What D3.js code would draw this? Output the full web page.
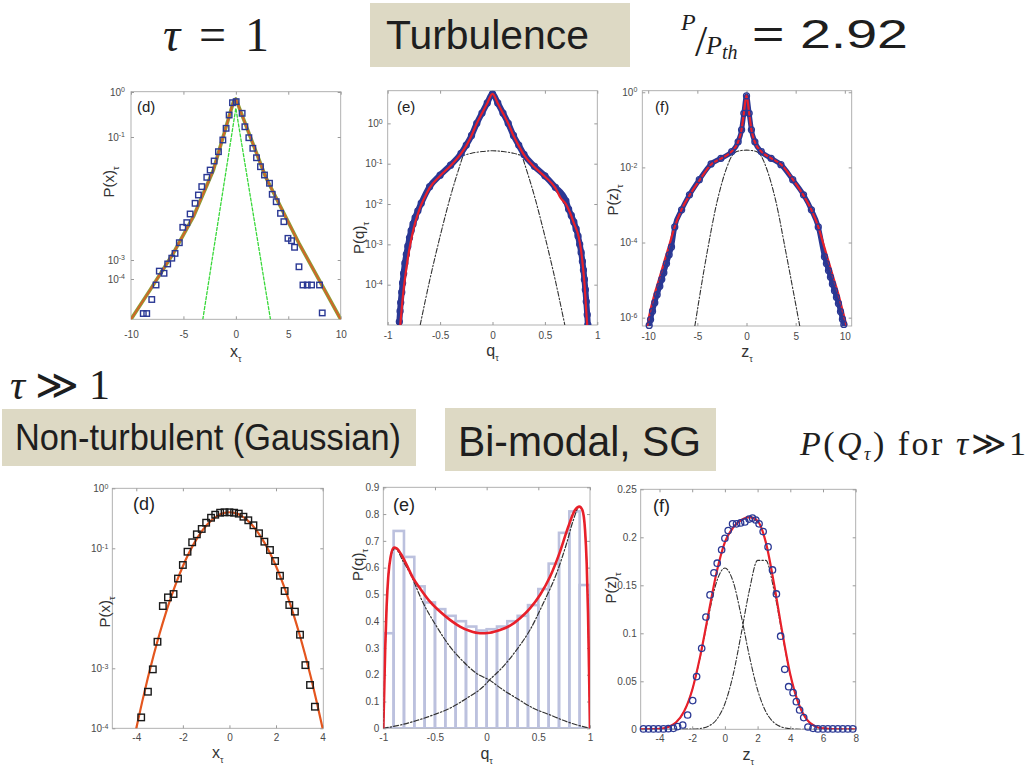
<!DOCTYPE html>
<html><head><meta charset="utf-8">
<script src="https://cdn.jsdelivr.net/npm/d3@7"></script>
<style>
body{margin:0;background:#fff}
svg{display:block}
</style>
</head><body><script>
// ================= DATA =================
// --- top row, tau = 1 : panel (d) P(x) ---
const tdXTicks = [-10,-5,0,5,10];
const tdYTicks = [1,0.1,0.001,0.0001];
const tdX = [-8.83,-8.50,-8.02,-7.61,-7.30,-6.85,-6.50,-6.11,-5.80,-5.39,-5.06,-4.68,-4.36,-3.89,-3.57,-3.25,-2.77,-2.45,-2.07,-1.66,-1.24,-0.93,-0.64,-0.32,
  0.03,0.60,0.86,1.24,1.62,1.97,2.35,2.73,3.21,3.47,3.85,4.26,4.58,4.97,5.31,5.60,6.02,6.40,6.81,7.22,7.98,8.24];
const tdP = [1.39e-5,1.39e-5,3.1e-5,7.1e-5,2.6e-4,2.0e-4,6.2e-4,1.07e-3,1.28e-3,1.91e-3,3.4e-3,4.05e-3,5.6e-3,8.35e-3,0.0114,0.0156,0.0221,0.029,0.0407,0.0577,0.0894,0.156,0.308,0.578,
  0.61,0.336,0.169,0.0974,0.0655,0.046,0.0329,0.0241,0.0177,0.0117,8.87e-3,5.74e-3,4.2e-3,2.25e-3,2.06e-3,1.61e-3,4.4e-4,7.1e-5,7.1e-5,7.1e-5,7.1e-5,1.44e-5];
const tdFitX = [-10,-8.19,-5.96,-4.05,-2.14,-0.23,0,2.83,6.02,10];
const tdFitP = [1e-5,5.3e-5,1.29e-3,5.06e-3,0.029,0.61,0.70,0.0226,1.87e-3,1e-5];
const tdGaussX = [-3.15,-2.55,-2.27,-0.43,0,0.45,2.38,2.67,3.3];
const tdGaussP = [1e-5,1e-4,1e-3,0.1,0.44,0.1,1e-3,1e-4,1e-5];

// --- top row : panel (e) P(q) ---
const teXTicks = [-1,-0.5,0,0.5,1];
const teYTicks = [1,0.1,0.01,0.001,0.0001];
const teBlueQ = [-0.889,-0.882,-0.876,-0.866,-0.858,-0.848,-0.836,-0.822,-0.808,-0.792,-0.776,-0.758,-0.738,-0.712,-0.68,-0.6,-0.5,-0.4,-0.3,-0.25,-0.2,-0.15,-0.1,-0.05,0,
  0.05,0.1,0.15,0.2,0.25,0.3,0.4,0.5,0.6,0.7,0.726,0.752,0.776,0.798,0.816,0.832,0.846,0.858,0.868,0.877,0.886,0.895,0.904,0.91];
const teBlueP = [1.2e-5,2.2e-5,3.6e-5,6.5e-5,1.1e-4,1.9e-4,3.4e-4,5.6e-4,9.0e-4,1.45e-3,2.2e-3,3.2e-3,4.6e-3,6.8e-3,0.0105,0.027,0.052,0.092,0.18,0.29,0.5,1.0,1.8,3.2,5.4,
  3.2,1.8,1.0,0.5,0.29,0.17,0.086,0.05,0.026,0.012,7.5e-3,5.2e-3,3.6e-3,2.4e-3,1.6e-3,1.0e-3,6.3e-4,3.8e-4,2.3e-4,1.35e-4,7.5e-5,3.8e-5,1.8e-5,1.0e-5];
const teFitQ = [-0.88,-0.865,-0.845,-0.82,-0.795,-0.77,-0.74,-0.7,-0.65,-0.6,-0.5,-0.4,-0.3,-0.25,-0.2,-0.15,-0.1,-0.05,0,0.05,0.1,0.15,0.2,0.25,0.3,0.4,0.5,0.6,0.65,0.7,0.742,0.78,0.822,0.845,0.863,0.88,0.892,0.904];
const teFitP = [1e-5,2.8e-5,8.9e-5,2.75e-4,7.2e-4,1.55e-3,3.3e-3,7.1e-3,0.0141,0.0251,0.0501,0.089,0.178,0.28,0.5,1.0,1.78,3.16,5.4,3.16,1.78,1.0,0.5,0.28,0.166,0.083,0.048,0.0251,0.0141,0.01,5.9e-3,3.16e-3,1.55e-3,7.1e-4,2.75e-4,8.9e-5,2.8e-5,1e-5];
const teNarrowQ = [-0.69,-0.6,-0.5,-0.4,-0.3,-0.25,-0.2,-0.1,0,0.1,0.2,0.25,0.3,0.4,0.5,0.6,0.69];
const teNarrowP = [1e-5,1.26e-4,1.58e-3,0.0158,0.112,0.28,0.63,2.24,5.0,2.24,0.63,0.28,0.112,0.0158,1.58e-3,1.26e-4,1e-5];
const teWideQ = [-0.31,-0.2,-0.1,0,0.1,0.2,0.31];
const teWideP = [0.151,0.182,0.2,0.209,0.2,0.182,0.148];

// --- top row : panel (f) P(z) ---
const tfXTicks = [-10,-5,0,5,10];
const tfYTicks = [1,0.01,0.0001,0.000001];
const tfBlueZ = [-9.90,-9.76,-9.56,-9.33,-9.09,-8.82,-8.62,-8.41,-8.14,-7.87,-7.63,-7.3,-6.6,-5.8,-4.8,-3.6,-2.6,-1.5,-0.85,-0.5,-0.27,0,
  0.27,0.5,0.85,1.5,2.5,3.5,4.7,5.8,6.6,7.3,7.93,8.13,8.34,8.54,8.74,8.95,9.15,9.35,9.56,9.76,9.9];
const tfBlueP = [6.2e-7,8.9e-7,1.48e-6,2.5e-6,4.1e-6,6.9e-6,1.05e-5,1.58e-5,2.75e-5,4.7e-5,7.6e-5,2.6e-4,7.4e-4,1.86e-3,4.7e-3,0.0123,0.0174,0.0263,0.048,0.1,0.275,0.8,
  0.275,0.1,0.048,0.0263,0.0174,0.0118,4.7e-3,1.86e-3,7.4e-4,2.6e-4,4.2e-5,2.75e-5,1.8e-5,1.2e-5,7.9e-6,5.2e-6,3.5e-6,2.4e-6,1.45e-6,9.1e-7,6.6e-7];
const tfFitZ = [-10.11,-9.84,-9.33,-8.82,-8.31,-7.80,-7.30,-6.62,-5.77,-4.75,-3.56,-2.55,-1.53,-0.85,-0.51,-0.27,0,0.27,0.5,0.84,1.51,2.53,3.55,4.74,5.76,6.6,7.3,7.8,8.3,8.81,9.32,9.76,10.15];
const tfFitP = [5.8e-7,1.32e-6,4.47e-6,1.23e-5,3.47e-5,9.55e-5,2.63e-4,7.41e-4,1.86e-3,4.68e-3,0.0123,0.0174,0.0263,0.0479,0.1,0.275,0.83,0.275,0.1,0.0479,0.0263,0.0174,0.01175,4.68e-3,1.86e-3,7.41e-4,2.63e-4,9.55e-5,3.47e-5,1.23e-5,4.47e-6,1.62e-6,6.46e-7];
const tfGaussZ = [-5.26,-4,-3,-2,-1.5,-1,-0.5,0,0.5,1,1.5,2,3,4,5.42];
const tfGaussP = [5.9e-7,5.6e-5,1.2e-3,0.01,0.02,0.0263,0.0282,0.0288,0.0282,0.0263,0.02,0.01,1.2e-3,5.6e-5,5.9e-7];

// --- bottom row, tau >> 1 : panel (d) P(x) ---
const bdXTicks = [-4,-2,0,2,4];
const bdYTicks = [1,0.1,0.001,0.0001];
const bdX = [-3.79,-3.50,-3.29,-3.09,-2.86,-2.64,-2.40,-2.21,-2.0,-1.8,-1.6,-1.4,-1.19,-1.0,-0.79,-0.61,-0.4,-0.21,0,0.2,0.4,0.6,0.81,1.03,1.27,1.5,1.74,1.96,2.17,2.37,2.57,2.81,3.03,3.26,3.46,3.67];
const bdP = [1.52e-4,4.07e-4,9.6e-4,2.77e-3,0.0109,0.0152,0.0173,0.0313,0.0527,0.0877,0.126,0.171,0.21,0.267,0.323,0.363,0.392,0.398,0.398,0.392,0.378,0.336,0.293,0.242,0.178,0.129,0.0937,0.0614,0.0349,0.0194,0.01135,8.8e-3,3.63e-3,1.13e-3,5.27e-4,2.29e-4];
const bdFitX = [-4.1,-4,-3.75,-3.5,-3.25,-3,-2.75,-2.5,-2.25,-2,-1.75,-1.5,-1.25,-1,-0.75,-0.5,-0.25,0,0.25,0.5,0.75,1,1.25,1.5,1.75,2,2.25,2.5,2.75,3,3.25,3.5,3.75,4,4.1];
const bdFitP = [6.6e-5,1.0e-4,2.73e-4,7.0e-4,1.68e-3,3.77e-3,7.93e-3,0.01566,0.029,0.0502,0.0816,0.1244,0.1776,0.2377,0.298,0.3505,0.386,0.399,0.386,0.3505,0.298,0.2377,0.1776,0.1244,0.0816,0.0502,0.029,0.01566,7.93e-3,3.77e-3,1.68e-3,7.0e-4,2.73e-4,1.0e-4,6.6e-5];

// --- bottom row : panel (e) P(q) histogram ---
const beXTicks = [-1,-0.5,0,0.5,1];
const beYTicks = [0,0.1,0.2,0.3,0.4,0.5,0.6,0.7,0.8,0.9];
const beBinLeft = [-1,-0.9,-0.8,-0.7,-0.6,-0.5,-0.4,-0.3,-0.2,-0.1,0,0.1,0.2,0.3,0.4,0.5,0.6,0.7,0.8,0.9];
const beBinWidth = 0.1;
const beBinH = [0.355,0.737,0.64,0.53,0.47,0.445,0.42,0.40,0.38,0.365,0.37,0.38,0.40,0.42,0.46,0.52,0.615,0.73,0.81,0.535];
const beFitQ = [-1,-0.99,-0.981,-0.968,-0.952,-0.929,-0.897,-0.871,-0.823,-0.774,-0.71,-0.645,-0.548,-0.452,-0.355,-0.258,-0.161,-0.065,0.032,0.129,0.226,0.323,0.419,0.516,0.613,0.71,0.79,0.855,0.897,0.926,0.952,0.968,0.981,0.99,1];
const beFitP = [0,0.156,0.305,0.454,0.566,0.641,0.675,0.672,0.647,0.61,0.56,0.523,0.473,0.436,0.405,0.38,0.363,0.355,0.357,0.367,0.383,0.411,0.448,0.498,0.566,0.66,0.753,0.815,0.828,0.815,0.741,0.616,0.429,0.23,0];
const beDownQ = [-1,-0.968,-0.929,-0.887,-0.806,-0.742,-0.613,-0.484,-0.355,-0.226,-0.097,0.026,0.161,0.29,0.452,0.613,0.774,0.935,1];
const beDownP = [0,0.45,0.64,0.672,0.622,0.579,0.467,0.38,0.305,0.249,0.205,0.18,0.143,0.112,0.075,0.05,0.025,0.006,0];
const beUpQ = [-1,-0.839,-0.677,-0.516,-0.355,-0.194,-0.032,0.026,0.129,0.29,0.419,0.548,0.677,0.774,0.839,0.897,0.926,0.952,0.968,0.981,0.99,1];
const beUpP = [0,0.012,0.029,0.05,0.075,0.112,0.156,0.18,0.218,0.293,0.367,0.467,0.579,0.691,0.778,0.828,0.815,0.741,0.616,0.429,0.23,0];

// --- bottom row : panel (f) P(z) ---
const bfXTicks = [-4,-2,0,2,4,6,8];
const bfYTicks = [0,0.05,0.1,0.15,0.2,0.25];
const bfZ = [-4.98,-4.67,-4.37,-4.07,-3.76,-3.46,-3.15,-2.89,-2.58,-2.28,-1.97,-1.73,-1.42,-1.16,-0.91,-0.67,-0.47,-0.2,0,0.2,0.47,0.71,0.96,1.22,1.48,1.69,1.89,2.09,2.34,2.64,2.91,3.15,3.41,3.66,3.9,4.17,4.37,4.57,4.82,5.08,5.39,5.69,6.0,6.3,6.6,6.91,7.21,7.52,7.82];
const bfP = [0.0004,0.0004,0.0004,0.0004,0.0004,0.0006,0.001,0.0028,0.0045,0.0149,0.0299,0.0549,0.0844,0.117,0.14,0.163,0.173,0.187,0.199,0.207,0.214,0.214,0.215,0.216,0.219,0.22,0.218,0.214,0.206,0.19,0.166,0.141,0.097,0.0625,0.0444,0.0382,0.0288,0.0201,0.0122,0.0024,0.001,0.0004,0.0004,0.0004,0.0004,0.0004,0.0004,0.0004,0.0004];
const bfFitZ = [-5.15,-4,-3.5,-3,-2.5,-2,-1.5,-1,-0.5,0,0.5,1,1.5,2,2.5,3,3.5,4,4.5,5,5.5,6,7,8];
const bfFitP = [0,0.0006,0.0022,0.007,0.0185,0.041,0.077,0.121,0.164,0.195,0.21,0.218,0.221,0.217,0.195,0.152,0.102,0.057,0.027,0.0103,0.0033,0.0009,0,0];
const bfG1Z = [-5.15,-4,-3,-2.5,-2,-1.5,-1,-0.5,0,0.5,1,1.5,2,2.5,3,3.5,4,5,8];
const bfG1P = [0,0.0006,0.007,0.0185,0.041,0.076,0.118,0.154,0.168,0.154,0.118,0.076,0.041,0.0185,0.007,0.0022,0.0006,0,0];
const bfG2Z = [-5.15,-2,-1.5,-1,-0.5,0,0.5,1,1.5,2,2.5,3,3.5,4,4.5,5,5.5,6,7,8];
const bfG2P = [0,0.0002,0.0009,0.0033,0.0103,0.0266,0.0565,0.0997,0.145,0.176,0.176,0.145,0.0997,0.0565,0.0266,0.0103,0.0033,0.0009,0,0];

// ================= DRAWING =================
const SANS = "'Liberation Sans',Arial,sans-serif";
const SERIF = "'Liberation Serif','Times New Roman',serif";
const svg = d3.select("body").append("svg").attr("width",1028).attr("height",771).style("font-family",SANS);
const defs = svg.append("defs");
let clipN = 0;
const zip = (a,b) => a.map((v,i)=>[v,b[i]]);

function supLabels(sel){
  sel.selectAll(".tick text").each(function(d){
    const e = Math.round(Math.log10(d));
    const t = d3.select(this).text(null);
    t.append("tspan").text("10");
    t.append("tspan").attr("dy","-0.5em").attr("font-size","7px").text(e);
  });
}

function panel(c){
  const g = svg.append("g");
  const id = "clip" + (clipN++);
  defs.append("clipPath").attr("id",id).append("rect")
    .attr("x",c.L).attr("y",c.T).attr("width",c.R-c.L).attr("height",c.B-c.T);
  g.append("rect").attr("x",c.L).attr("y",c.T).attr("width",c.R-c.L).attr("height",c.B-c.T)
    .attr("fill","#fff").attr("stroke","#a8a8a8").attr("stroke-width",0.9);
  const styleAxis = s => {
    s.select(".domain").remove();
    s.selectAll(".tick line").attr("stroke","#9a9a9a");
    s.selectAll(".tick text").attr("fill","#4a4a4a").attr("font-size",10).style("font-family",SANS);
  };
  const gx = g.append("g").attr("transform",`translate(0,${c.B})`)
    .call(d3.axisBottom(c.x).tickValues(c.xTicks).tickSize(-3).tickPadding(c.xPad).tickFormat(d=>String(d)));
  styleAxis(gx);
  g.append("g").attr("transform",`translate(0,${c.T})`)
    .call(d3.axisTop(c.x).tickValues(c.xTicks).tickSize(-3).tickFormat("")).call(styleAxis);
  const gy = g.append("g").attr("transform",`translate(${c.L},0)`)
    .call(d3.axisLeft(c.y).tickValues(c.yTicks).tickSize(-3).tickPadding(c.yPad).tickFormat(c.yFmt || (d=>String(d))));
  styleAxis(gy);
  if (c.log) supLabels(gy);
  g.append("g").attr("transform",`translate(${c.R},0)`)
    .call(d3.axisRight(c.y).tickValues(c.yTicks).tickSize(-3).tickFormat("")).call(styleAxis);
  const plot = g.append("g").attr("clip-path",`url(#${id})`);
  // x label
  const xl = g.append("text").attr("x",(c.L+c.R)/2).attr("y",c.xlY).attr("text-anchor","middle")
    .attr("font-size",16).attr("fill","#333");
  xl.append("tspan").text(c.xlab);
  xl.append("tspan").attr("font-size",9).attr("dy",5).text("τ");
  // y label
  const yl = g.append("text").attr("transform",`translate(${c.ylX},${c.ylY}) rotate(-90)`)
    .attr("text-anchor","middle").attr("font-size",15).attr("fill","#333");
  yl.append("tspan").text(c.ylab);
  yl.append("tspan").attr("font-size",9).attr("dy",5).text("τ");
  // panel tag
  g.append("text").attr("x",c.tagX).attr("y",c.tagY).attr("font-size",c.tagSize||16).attr("fill","#222").text(c.tag);
  return {g, plot};
}

function line(target, x, y, X, Y, stroke, width, dash, curve){
  const gen = d3.line().x(d=>x(d[0])).y(d=>y(d[1])).curve(curve || d3.curveLinear);
  target.append("path").attr("d",gen(zip(X,Y))).attr("fill","none").attr("stroke",stroke)
    .attr("stroke-width",width).attr("stroke-dasharray",dash||null)
    .attr("stroke-linejoin","round").attr("stroke-linecap","round");
}
function squares(target,x,y,X,Y,stroke,s){
  target.selectAll(null).data(zip(X,Y)).enter().append("rect")
    .attr("x",d=>x(d[0])-s/2).attr("y",d=>y(d[1])-s/2).attr("width",s).attr("height",s)
    .attr("fill","none").attr("stroke",stroke).attr("stroke-width",1.4);
}
function circles(target,x,y,X,Y,stroke,r){
  target.selectAll(null).data(zip(X,Y)).enter().append("circle")
    .attr("cx",d=>x(d[0])).attr("cy",d=>y(d[1])).attr("r",r)
    .attr("fill","none").attr("stroke",stroke).attr("stroke-width",1.3);
}
const NAVY = "#2a3894", RED = "#e8202a", DASH = "5,2,1.5,2";

// ---------- top (d) ----------
{
  const x = d3.scaleLinear().domain([-10,10]).range([131,340.7]);
  const y = d3.scaleLog().domain([1,0.1,0.001,0.0001,0.00001]).range([92,137,260,279,319.3]);
  const p = panel({L:131,R:340.7,T:91.7,B:319.3,x,y,xTicks:tdXTicks,yTicks:tdYTicks,log:true,xPad:12,yPad:6,
    xlab:"x",xlY:357,ylab:"P(x)",ylX:114,ylY:182,tag:"(d)",tagX:137,tagY:112,tagSize:15});
  line(p.plot,x,y,tdGaussX,tdGaussP,"#39d83a",1.3,"3,2");
  line(p.plot,x,y,tdFitX,tdFitP,"#8f9d35",3.6);
  line(p.plot,x,y,tdFitX,tdFitP,"#dc5a28",1.5);
  squares(p.g,x,y,tdX,tdP,NAVY,5.5);
}
// ---------- top (e) ----------
{
  const x = d3.scaleLinear().domain([-1,1]).range([387.7,597.3]);
  const y = d3.scaleLog().domain([1e-5,6.46]).range([325,90.7]);
  const p = panel({L:387.7,R:597.3,T:90.7,B:325,x,y,xTicks:teXTicks,yTicks:teYTicks,log:true,xPad:7,yPad:5,
    xlab:"q",xlY:356,ylab:"P(q)",ylX:364,ylY:238,tag:"(e)",tagX:397,tagY:112,tagSize:15});
  line(p.plot,x,y,teNarrowQ,teNarrowP,"#333",1.1,DASH,d3.curveMonotoneX);
  line(p.plot,x,y,teWideQ,teWideP,"#333",1.1,DASH,d3.curveMonotoneX);
  line(p.plot,x,y,teBlueQ,teBlueP,NAVY,6,null,d3.curveMonotoneX);
  circles(p.plot,x,y,teBlueQ,teBlueP,NAVY,3);
  line(p.plot,x,y,teFitQ,teFitP,RED,2.2,null,d3.curveMonotoneX);
}
// ---------- top (f) ----------
{
  const x = d3.scaleLinear().domain([-10.6,10.7]).range([642.3,851.7]);
  const y = d3.scaleLog().domain([6e-7,1.1]).range([326,90.7]);
  const p = panel({L:642.3,R:851.7,T:90.7,B:326,x,y,xTicks:tfXTicks,yTicks:tfYTicks,log:true,xPad:7,yPad:5,
    xlab:"z",xlY:357,ylab:"P(z)",ylX:618,ylY:200,tag:"(f)",tagX:655,tagY:112,tagSize:15});
  line(p.plot,x,y,tfGaussZ,tfGaussP,"#333",1.1,DASH,d3.curveMonotoneX);
  line(p.plot,x,y,tfBlueZ,tfBlueP,NAVY,5,null,d3.curveMonotoneX);
  circles(p.g,x,y,tfBlueZ,tfBlueP,NAVY,3);
  line(p.plot,x,y,tfFitZ,tfFitP,RED,2.2,null,d3.curveMonotoneX);
}
// ---------- bottom (d) ----------
{
  const x = d3.scaleLinear().domain([-5.03,4.03]).range([112.3,323.3]);
  const y = d3.scaleLog().domain([1e-4,1]).range([728.3,488.3]);
  const p = panel({L:112.3,R:323.3,T:488.3,B:728.3,x,y,xTicks:bdXTicks,yTicks:bdYTicks,log:true,xPad:6,yPad:4,
    xlab:"x",xlY:758,ylab:"P(x)",ylX:110,ylY:612,tag:"(d)",tagX:133,tagY:510,tagSize:18});
  line(p.plot,x,y,bdFitX,bdFitP,"#e4561e",2.2,null,d3.curveMonotoneX);
  squares(p.g,x,y,bdX,bdP,"#1a1a1a",6.5);
}
// ---------- bottom (e) ----------
{
  const x = d3.scaleLinear().domain([-1,1]).range([383.3,590]);
  const y = d3.scaleLinear().domain([0,0.9]).range([728.3,487.3]);
  const p = panel({L:383.3,R:590,T:487.3,B:728.3,x,y,xTicks:beXTicks,yTicks:beYTicks,log:false,xPad:6,yPad:4,
    xlab:"q",xlY:759,ylab:"P(q)",ylX:363,ylY:565,tag:"(e)",tagX:393,tagY:511,tagSize:18});
  p.plot.selectAll(null).data(zip(beBinLeft,beBinH)).enter().append("rect")
    .attr("x",d=>x(d[0])).attr("width",d=>x(d[0]+beBinWidth)-x(d[0]))
    .attr("y",d=>y(d[1])).attr("height",d=>y(0)-y(d[1]))
    .attr("fill","none").attr("stroke","#bcc1de").attr("stroke-width",2.6);
  line(p.plot,x,y,beDownQ,beDownP,"#333",1.2,DASH,d3.curveMonotoneX);
  line(p.plot,x,y,beUpQ,beUpP,"#333",1.2,DASH,d3.curveMonotoneX);
  line(p.plot,x,y,beFitQ,beFitP,RED,2.6,null,d3.curveMonotoneX);
}
// ---------- bottom (f) ----------
{
  const x = d3.scaleLinear().domain([-5.15,8]).range([640.7,855.7]);
  const y = d3.scaleLinear().domain([0,0.25]).range([729.3,489.3]);
  const p = panel({L:640.7,R:855.7,T:489.3,B:729.3,x,y,xTicks:bfXTicks,yTicks:bfYTicks,log:false,xPad:6,yPad:4,
    xlab:"z",xlY:760,ylab:"P(z)",ylX:616,ylY:588,tag:"(f)",tagX:653,tagY:512,tagSize:18});
  line(p.plot,x,y,bfG1Z,bfG1P,"#333",1.1,DASH,d3.curveMonotoneX);
  line(p.plot,x,y,bfG2Z,bfG2P,"#333",1.1,DASH,d3.curveMonotoneX);
  line(p.plot,x,y,bfFitZ,bfFitP,RED,2.2,null,d3.curveMonotoneX);
  circles(p.g,x,y,bfZ,bfP,NAVY,3.2);
}

// ================= HEADINGS =================
const BOX = "#ddd9c4", INK = "#1e1e1e";
// tau = 1
{
  const t = svg.append("text").attr("x",163).attr("y",51).style("font-family",SERIF).attr("font-size",48).attr("fill",INK)
    .attr("textLength",106).attr("lengthAdjust","spacing");
  t.append("tspan").attr("font-style","italic").text("τ");
  t.append("tspan").text("=1");
}
svg.append("rect").attr("x",370).attr("y",3).attr("width",260).attr("height",64).attr("fill",BOX);
svg.append("text").attr("x",386).attr("y",49).attr("font-size",40).attr("fill",INK)
  .attr("textLength",203).attr("lengthAdjust","spacingAndGlyphs").text("Turbulence");
// P / P_th = 2.92
{
  const g = svg.append("g").style("font-family",SERIF).attr("fill",INK);
  g.append("text").attr("x",681).attr("y",30).attr("font-size",24).attr("font-style","italic").text("P");
  g.append("text").attr("x",695).attr("y",56).attr("font-size",44).text("/");
  const b = g.append("text").attr("x",706).attr("y",54).attr("font-size",26).attr("font-style","italic");
  b.append("tspan").text("P");
  b.append("tspan").attr("font-size",20).attr("dy",5).text("th");
  g.append("text").attr("x",752).attr("y",48).style("font-family",SANS).attr("font-size",40)
    .attr("textLength",156).attr("lengthAdjust","spacingAndGlyphs").text("= 2.92");
}
// tau >> 1
{
  const t = svg.append("text").attr("x",10).attr("y",399).style("font-family",SERIF).attr("font-size",42).attr("fill",INK)
    .attr("textLength",100).attr("lengthAdjust","spacing");
  t.append("tspan").attr("font-style","italic").text("τ");
  t.append("tspan").text("≫1");
}
svg.append("rect").attr("x",2).attr("y",409).attr("width",414).attr("height",57).attr("fill",BOX);
svg.append("text").attr("x",15).attr("y",450).attr("font-size",36).attr("fill",INK)
  .attr("textLength",386).attr("lengthAdjust","spacingAndGlyphs").text("Non-turbulent (Gaussian)");
svg.append("rect").attr("x",445).attr("y",408).attr("width",271).attr("height",63).attr("fill",BOX);
svg.append("text").attr("x",458).attr("y",456).attr("font-size",42).attr("fill",INK)
  .attr("textLength",243).attr("lengthAdjust","spacingAndGlyphs").text("Bi-modal, SG");
{
  const t = svg.append("text").attr("x",800).attr("y",455).style("font-family",SERIF).attr("font-size",34).attr("fill",INK)
    .attr("textLength",226).attr("lengthAdjust","spacing");
  t.append("tspan").attr("font-style","italic").text("P");
  t.append("tspan").text("(");
  t.append("tspan").attr("font-style","italic").text("Q");
  t.append("tspan").attr("font-style","italic").attr("font-size",18).attr("dy",5).text("τ");
  t.append("tspan").attr("dy",-5).text(") for ");
  t.append("tspan").attr("font-style","italic").text("τ");
  t.append("tspan").text("≫1");
}
</script></body></html>
